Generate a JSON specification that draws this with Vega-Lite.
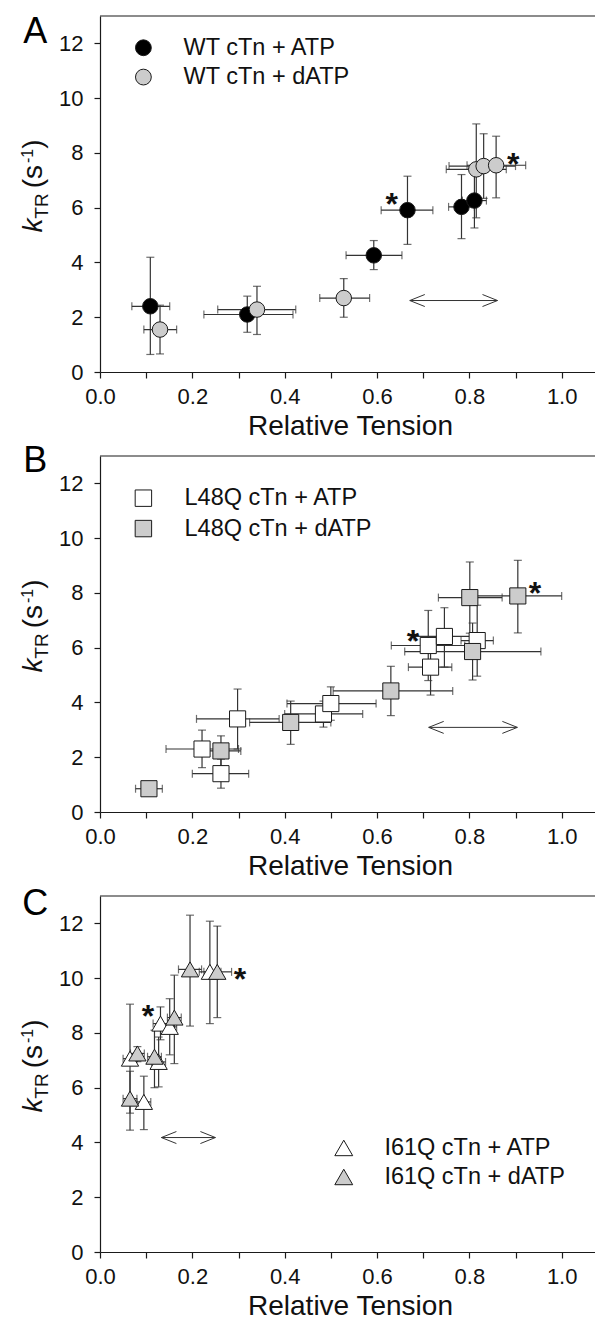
{
  "$schema": "https://vega.github.io/schema/vega-lite/v6.json",
  "padding": {"left": 19, "top": 14, "right": 0, "bottom": 0},
  "config": {
    "font": "Liberation Sans",
    "view": {"stroke": null},
    "axis": {"grid": false, "domainColor": "#1a1a1a", "domainWidth": 1.2, "tickColor": "#1a1a1a", "tickWidth": 1.2, "tickSize": 6, "labelFontSize": 22, "labelColor": "#111", "labelFont": "Liberation Sans", "titleFont": "Liberation Sans", "titleFontSize": 28, "titleFontWeight": "normal", "titleColor": "#111", "labelFlush": false, "labelOverlap": false}
  },
  "datasets": {
    "pts": [
      {"panel": "A", "nuc": "ATP", "x": 0.109, "y": 2.40, "xlo": 0.069, "xhi": 0.151, "ylo": 0.64, "yhi": 4.19},
      {"panel": "A", "nuc": "ATP", "x": 0.319, "y": 2.10, "xlo": 0.225, "xhi": 0.418, "ylo": 1.45, "yhi": 2.77},
      {"panel": "A", "nuc": "ATP", "x": 0.593, "y": 4.26, "xlo": 0.533, "xhi": 0.654, "ylo": 3.74, "yhi": 4.80},
      {"panel": "A", "nuc": "ATP", "x": 0.666, "y": 5.91, "xlo": 0.609, "xhi": 0.721, "ylo": 4.66, "yhi": 7.15},
      {"panel": "A", "nuc": "ATP", "x": 0.783, "y": 6.03, "xlo": 0.755, "xhi": 0.811, "ylo": 4.87, "yhi": 7.21},
      {"panel": "A", "nuc": "ATP", "x": 0.811, "y": 6.26, "xlo": 0.785, "xhi": 0.837, "ylo": 5.26, "yhi": 7.26},
      {"panel": "A", "nuc": "dATP", "x": 0.130, "y": 1.55, "xlo": 0.095, "xhi": 0.166, "ylo": 0.66, "yhi": 2.44},
      {"panel": "A", "nuc": "dATP", "x": 0.340, "y": 2.28, "xlo": 0.255, "xhi": 0.424, "ylo": 1.37, "yhi": 3.13},
      {"panel": "A", "nuc": "dATP", "x": 0.528, "y": 2.70, "xlo": 0.476, "xhi": 0.584, "ylo": 2.00, "yhi": 3.41},
      {"panel": "A", "nuc": "dATP", "x": 0.815, "y": 7.40, "xlo": 0.750, "xhi": 0.880, "ylo": 5.63, "yhi": 9.06},
      {"panel": "A", "nuc": "dATP", "x": 0.831, "y": 7.52, "xlo": 0.756, "xhi": 0.900, "ylo": 6.34, "yhi": 8.70},
      {"panel": "A", "nuc": "dATP", "x": 0.858, "y": 7.55, "xlo": 0.795, "xhi": 0.922, "ylo": 6.36, "yhi": 8.61},
      {"panel": "B", "nuc": "ATP", "x": 0.221, "y": 2.30, "xlo": 0.143, "xhi": 0.300, "ylo": 1.62, "yhi": 2.99},
      {"panel": "B", "nuc": "ATP", "x": 0.262, "y": 1.40, "xlo": 0.200, "xhi": 0.322, "ylo": 0.87, "yhi": 1.93},
      {"panel": "B", "nuc": "ATP", "x": 0.298, "y": 3.40, "xlo": 0.209, "xhi": 0.388, "ylo": 2.30, "yhi": 4.49},
      {"panel": "B", "nuc": "ATP", "x": 0.484, "y": 3.58, "xlo": 0.400, "xhi": 0.569, "ylo": 3.10, "yhi": 4.05},
      {"panel": "B", "nuc": "ATP", "x": 0.500, "y": 3.96, "xlo": 0.405, "xhi": 0.598, "ylo": 3.35, "yhi": 4.57},
      {"panel": "B", "nuc": "ATP", "x": 0.711, "y": 6.08, "xlo": 0.631, "xhi": 0.790, "ylo": 4.80, "yhi": 7.36},
      {"panel": "B", "nuc": "ATP", "x": 0.716, "y": 5.29, "xlo": 0.668, "xhi": 0.762, "ylo": 4.27, "yhi": 6.31},
      {"panel": "B", "nuc": "ATP", "x": 0.746, "y": 6.41, "xlo": 0.680, "xhi": 0.810, "ylo": 5.29, "yhi": 7.46},
      {"panel": "B", "nuc": "ATP", "x": 0.817, "y": 6.26, "xlo": 0.782, "xhi": 0.852, "ylo": 4.96, "yhi": 7.55},
      {"panel": "B", "nuc": "dATP", "x": 0.106, "y": 0.85, "xlo": 0.077, "xhi": 0.135, "ylo": 0.70, "yhi": 1.00},
      {"panel": "B", "nuc": "dATP", "x": 0.262, "y": 2.23, "xlo": 0.220, "xhi": 0.305, "ylo": 1.68, "yhi": 2.78},
      {"panel": "B", "nuc": "dATP", "x": 0.413, "y": 3.27, "xlo": 0.324, "xhi": 0.500, "ylo": 2.47, "yhi": 4.05},
      {"panel": "B", "nuc": "dATP", "x": 0.630, "y": 4.42, "xlo": 0.505, "xhi": 0.764, "ylo": 3.52, "yhi": 5.32},
      {"panel": "B", "nuc": "dATP", "x": 0.801, "y": 7.83, "xlo": 0.733, "xhi": 0.871, "ylo": 6.53, "yhi": 9.13},
      {"panel": "B", "nuc": "dATP", "x": 0.807, "y": 5.86, "xlo": 0.660, "xhi": 0.955, "ylo": 4.82, "yhi": 6.90},
      {"panel": "B", "nuc": "dATP", "x": 0.905, "y": 7.89, "xlo": 0.810, "xhi": 1.000, "ylo": 6.54, "yhi": 9.19},
      {"panel": "C", "nuc": "ATP", "x": 0.065, "y": 7.06, "xlo": 0.050, "xhi": 0.080, "ylo": 5.07, "yhi": 9.05},
      {"panel": "C", "nuc": "ATP", "x": 0.095, "y": 5.48, "xlo": 0.080, "xhi": 0.110, "ylo": 4.47, "yhi": 6.42},
      {"panel": "C", "nuc": "ATP", "x": 0.127, "y": 6.94, "xlo": 0.112, "xhi": 0.142, "ylo": 6.03, "yhi": 7.85},
      {"panel": "C", "nuc": "ATP", "x": 0.131, "y": 8.34, "xlo": 0.115, "xhi": 0.147, "ylo": 7.75, "yhi": 8.95},
      {"panel": "C", "nuc": "ATP", "x": 0.151, "y": 8.22, "xlo": 0.136, "xhi": 0.166, "ylo": 7.20, "yhi": 9.25},
      {"panel": "C", "nuc": "ATP", "x": 0.238, "y": 10.23, "xlo": 0.215, "xhi": 0.262, "ylo": 8.34, "yhi": 12.08},
      {"panel": "C", "nuc": "dATP", "x": 0.065, "y": 5.60, "xlo": 0.050, "xhi": 0.080, "ylo": 4.45, "yhi": 6.60},
      {"panel": "C", "nuc": "dATP", "x": 0.081, "y": 7.25, "xlo": 0.066, "xhi": 0.096, "ylo": 6.95, "yhi": 7.50},
      {"panel": "C", "nuc": "dATP", "x": 0.118, "y": 7.13, "xlo": 0.103, "xhi": 0.133, "ylo": 6.00, "yhi": 8.10},
      {"panel": "C", "nuc": "dATP", "x": 0.161, "y": 8.56, "xlo": 0.146, "xhi": 0.176, "ylo": 6.88, "yhi": 10.11},
      {"panel": "C", "nuc": "dATP", "x": 0.195, "y": 10.32, "xlo": 0.170, "xhi": 0.220, "ylo": 8.25, "yhi": 12.30},
      {"panel": "C", "nuc": "dATP", "x": 0.254, "y": 10.23, "xlo": 0.225, "xhi": 0.285, "ylo": 8.56, "yhi": 11.90}
    ],
    "stars": [
      {"panel": "A", "x": 0.632, "y": 6.36},
      {"panel": "A", "x": 0.895, "y": 7.83},
      {"panel": "B", "x": 0.678, "y": 6.48},
      {"panel": "B", "x": 0.942, "y": 8.22},
      {"panel": "C", "x": 0.104, "y": 8.83},
      {"panel": "C", "x": 0.303, "y": 10.19}
    ],
    "arrows": [
      {"panel": "A", "x": 0.671, "x2": 0.861, "y": 2.61},
      {"panel": "B", "x": 0.712, "x2": 0.904, "y": 3.09},
      {"panel": "C", "x": 0.133, "x2": 0.250, "y": 4.18}
    ],
    "leg": [
      {"panel": "A", "nuc": "ATP", "label": "WT cTn + ATP", "x": 0.094, "tx": 0.181, "y": 11.84},
      {"panel": "A", "nuc": "dATP", "label": "WT cTn + dATP", "x": 0.094, "tx": 0.181, "y": 10.77},
      {"panel": "B", "nuc": "ATP", "label": "L48Q cTn + ATP", "x": 0.094, "tx": 0.183, "y": 11.46},
      {"panel": "B", "nuc": "dATP", "label": "L48Q cTn + dATP", "x": 0.094, "tx": 0.183, "y": 10.35},
      {"panel": "C", "nuc": "ATP", "label": "I61Q cTn + ATP", "x": 0.528, "tx": 0.616, "y": 3.80},
      {"panel": "C", "nuc": "dATP", "label": "I61Q cTn + dATP", "x": 0.528, "tx": 0.616, "y": 2.74}
    ],
    "letters": [
      {"panel": "A", "text": "A", "x": -0.14, "y": 12.01},
      {"panel": "B", "text": "B", "x": -0.14, "y": 12.42},
      {"panel": "C", "text": "C", "x": -0.14, "y": 12.30}
    ]
  },
  "bounds": "flush",
  "spacing": 84,
  "resolve": {"scale": {"fill": "independent", "x": "independent", "y": "independent"}},
  "vconcat": [
    {
      "width": 500, "height": 356,
      "layer": [
        {"data": {"name": "pts"}, "transform": [{"filter": "datum.panel === 'A'"}],
         "mark": {"type": "errorbar", "color": "#333", "thickness": 1.2, "ticks": {"size": 8}},
         "encoding": {
           "x": {"field": "xlo", "type": "quantitative", "scale": {"domain": [0, 1.083], "nice": false, "zero": false},
                 "axis": {"values": [0, 0.1, 0.2, 0.3, 0.4, 0.5, 0.6, 0.7, 0.8, 0.9, 1.0], "labelExpr": "(round(datum.value*10) % 2 === 0) ? format(datum.value, '.1f') : ''", "title": "Relative Tension", "labelPadding": 8, "titlePadding": 5}},
           "x2": {"field": "xhi"},
           "y": {"field": "y", "type": "quantitative", "scale": {"domain": [0, 13], "nice": false, "zero": false},
                 "axis": {"values": [0, 2, 4, 6, 8, 10, 12], "title": null, "labelPadding": 11}}
         }},
        {"data": {"name": "pts"}, "transform": [{"filter": "datum.panel === 'A'"}],
         "mark": {"type": "errorbar", "color": "#333", "thickness": 1.2, "ticks": {"size": 8}},
         "encoding": {"x": {"field": "x", "type": "quantitative"}, "y": {"field": "ylo", "type": "quantitative"}, "y2": {"field": "yhi"}}},
        {"data": {"values": [{}]}, "mark": {"type": "rule", "color": "#1a1a1a", "strokeWidth": 1.2}, "encoding": {"y": {"datum": 13}}},
        {"data": {"name": "pts"}, "transform": [{"filter": "datum.panel === 'A'"}],
         "mark": {"type": "point", "shape": "circle", "filled": true, "size": 240, "stroke": "#1a1a1a", "strokeWidth": 1, "opacity": 1},
         "encoding": {"x": {"field": "x", "type": "quantitative"}, "y": {"field": "y", "type": "quantitative"},
                      "fill": {"field": "nuc", "type": "nominal", "scale": {"domain": ["ATP", "dATP"], "range": ["#000000", "#cccccc"]}, "legend": null}}},
        {"data": {"name": "stars"}, "transform": [{"filter": "datum.panel === 'A'"}],
         "mark": {"type": "text", "text": "*", "fontSize": 32, "fontWeight": "bold", "baseline": "middle", "dy": 7, "color": "#111"},
         "encoding": {"x": {"field": "x", "type": "quantitative"}, "y": {"field": "y", "type": "quantitative"}}},
        {"data": {"name": "arrows"}, "transform": [{"filter": "datum.panel === 'A'"}],
         "mark": {"type": "rule", "color": "#333", "strokeWidth": 1},
         "encoding": {"x": {"field": "x", "type": "quantitative"}, "x2": {"field": "x2"}, "y": {"field": "y", "type": "quantitative"}}},
        {"data": {"name": "arrows"}, "transform": [{"filter": "datum.panel === 'A'"}],
         "mark": {"type": "point", "shape": "M2,-0.8L0,0L2,0.8", "filled": false, "size": 225, "stroke": "#333", "strokeWidth": 1, "opacity": 1},
         "encoding": {"x": {"field": "x", "type": "quantitative"}, "y": {"field": "y", "type": "quantitative"}}},
        {"data": {"name": "arrows"}, "transform": [{"filter": "datum.panel === 'A'"}],
         "mark": {"type": "point", "shape": "M-2,-0.8L0,0L-2,0.8", "filled": false, "size": 225, "stroke": "#333", "strokeWidth": 1, "opacity": 1},
         "encoding": {"x": {"field": "x2", "type": "quantitative"}, "y": {"field": "y", "type": "quantitative"}}},
        {"data": {"name": "leg"}, "transform": [{"filter": "datum.panel === 'A'"}],
         "mark": {"type": "point", "shape": "circle", "filled": true, "size": 250, "stroke": "#1a1a1a", "strokeWidth": 1, "opacity": 1},
         "encoding": {"x": {"field": "x", "type": "quantitative"}, "y": {"field": "y", "type": "quantitative"},
                      "fill": {"field": "nuc", "type": "nominal", "legend": null}}},
        {"data": {"name": "leg"}, "transform": [{"filter": "datum.panel === 'A'"}],
         "mark": {"type": "text", "align": "left", "baseline": "middle", "fontSize": 23.5, "color": "#111"},
         "encoding": {"x": {"field": "tx", "type": "quantitative"}, "y": {"field": "y", "type": "quantitative"}, "text": {"field": "label"}}},
        {"data": {"name": "letters"}, "transform": [{"filter": "datum.panel === 'A'"}],
         "mark": {"type": "text", "align": "center", "baseline": "alphabetic", "fontSize": 36, "color": "#000"},
         "encoding": {"x": {"field": "x", "type": "quantitative"}, "y": {"field": "y", "type": "quantitative"}, "text": {"field": "text"}}},
        {"data": {"values": [{}]}, "mark": {"type": "text", "text": "k", "angle": 270, "align": "left", "baseline": "alphabetic", "fontSize": 28, "fontStyle": "italic", "color": "#111"}, "encoding": {"x": {"datum": -0.1246}, "y": {"datum": 5.09}}},
        {"data": {"values": [{}]}, "mark": {"type": "text", "text": "TR", "angle": 270, "align": "left", "baseline": "alphabetic", "fontSize": 19, "color": "#111"}, "encoding": {"x": {"datum": -0.1127}, "y": {"datum": 5.60}}},
        {"data": {"values": [{}]}, "mark": {"type": "text", "text": "(s", "angle": 270, "align": "left", "baseline": "alphabetic", "fontSize": 28, "color": "#111"}, "encoding": {"x": {"datum": -0.1246}, "y": {"datum": 6.71}}},
        {"data": {"values": [{}]}, "mark": {"type": "text", "text": "-1", "angle": 270, "align": "left", "baseline": "alphabetic", "fontSize": 16, "color": "#111"}, "encoding": {"x": {"datum": -0.1452}, "y": {"datum": 7.63}}},
        {"data": {"values": [{}]}, "mark": {"type": "text", "text": ")", "angle": 270, "align": "left", "baseline": "alphabetic", "fontSize": 28, "color": "#111"}, "encoding": {"x": {"datum": -0.1246}, "y": {"datum": 8.15}}}
      ]
    },
    {
      "width": 500, "height": 356,
      "layer": [
        {"data": {"name": "pts"}, "transform": [{"filter": "datum.panel === 'B'"}],
         "mark": {"type": "errorbar", "color": "#333", "thickness": 1.2, "ticks": {"size": 8}},
         "encoding": {
           "x": {"field": "xlo", "type": "quantitative", "scale": {"domain": [0, 1.083], "nice": false, "zero": false},
                 "axis": {"values": [0, 0.1, 0.2, 0.3, 0.4, 0.5, 0.6, 0.7, 0.8, 0.9, 1.0], "labelExpr": "(round(datum.value*10) % 2 === 0) ? format(datum.value, '.1f') : ''", "title": "Relative Tension", "labelPadding": 8, "titlePadding": 5}},
           "x2": {"field": "xhi"},
           "y": {"field": "y", "type": "quantitative", "scale": {"domain": [0, 13], "nice": false, "zero": false},
                 "axis": {"values": [0, 2, 4, 6, 8, 10, 12], "title": null, "labelPadding": 11}}
         }},
        {"data": {"name": "pts"}, "transform": [{"filter": "datum.panel === 'B'"}],
         "mark": {"type": "errorbar", "color": "#333", "thickness": 1.2, "ticks": {"size": 8}},
         "encoding": {"x": {"field": "x", "type": "quantitative"}, "y": {"field": "ylo", "type": "quantitative"}, "y2": {"field": "yhi"}}},
        {"data": {"values": [{}]}, "mark": {"type": "rule", "color": "#1a1a1a", "strokeWidth": 1.2}, "encoding": {"y": {"datum": 13}}},
        {"data": {"name": "pts"}, "transform": [{"filter": "datum.panel === 'B'"}],
         "mark": {"type": "point", "shape": "square", "filled": true, "size": 260, "stroke": "#1a1a1a", "strokeWidth": 1, "opacity": 1},
         "encoding": {"x": {"field": "x", "type": "quantitative"}, "y": {"field": "y", "type": "quantitative"},
                      "fill": {"field": "nuc", "type": "nominal", "scale": {"domain": ["ATP", "dATP"], "range": ["#ffffff", "#cccccc"]}, "legend": null}}},
        {"data": {"name": "stars"}, "transform": [{"filter": "datum.panel === 'B'"}],
         "mark": {"type": "text", "text": "*", "fontSize": 32, "fontWeight": "bold", "baseline": "middle", "dy": 7, "color": "#111"},
         "encoding": {"x": {"field": "x", "type": "quantitative"}, "y": {"field": "y", "type": "quantitative"}}},
        {"data": {"name": "arrows"}, "transform": [{"filter": "datum.panel === 'B'"}],
         "mark": {"type": "rule", "color": "#333", "strokeWidth": 1},
         "encoding": {"x": {"field": "x", "type": "quantitative"}, "x2": {"field": "x2"}, "y": {"field": "y", "type": "quantitative"}}},
        {"data": {"name": "arrows"}, "transform": [{"filter": "datum.panel === 'B'"}],
         "mark": {"type": "point", "shape": "M2,-0.8L0,0L2,0.8", "filled": false, "size": 225, "stroke": "#333", "strokeWidth": 1, "opacity": 1},
         "encoding": {"x": {"field": "x", "type": "quantitative"}, "y": {"field": "y", "type": "quantitative"}}},
        {"data": {"name": "arrows"}, "transform": [{"filter": "datum.panel === 'B'"}],
         "mark": {"type": "point", "shape": "M-2,-0.8L0,0L-2,0.8", "filled": false, "size": 225, "stroke": "#333", "strokeWidth": 1, "opacity": 1},
         "encoding": {"x": {"field": "x2", "type": "quantitative"}, "y": {"field": "y", "type": "quantitative"}}},
        {"data": {"name": "leg"}, "transform": [{"filter": "datum.panel === 'B'"}],
         "mark": {"type": "point", "shape": "square", "filled": true, "size": 270, "stroke": "#1a1a1a", "strokeWidth": 1, "opacity": 1},
         "encoding": {"x": {"field": "x", "type": "quantitative"}, "y": {"field": "y", "type": "quantitative"},
                      "fill": {"field": "nuc", "type": "nominal", "legend": null}}},
        {"data": {"name": "leg"}, "transform": [{"filter": "datum.panel === 'B'"}],
         "mark": {"type": "text", "align": "left", "baseline": "middle", "fontSize": 23.5, "color": "#111"},
         "encoding": {"x": {"field": "tx", "type": "quantitative"}, "y": {"field": "y", "type": "quantitative"}, "text": {"field": "label"}}},
        {"data": {"name": "letters"}, "transform": [{"filter": "datum.panel === 'B'"}],
         "mark": {"type": "text", "align": "center", "baseline": "alphabetic", "fontSize": 36, "color": "#000"},
         "encoding": {"x": {"field": "x", "type": "quantitative"}, "y": {"field": "y", "type": "quantitative"}, "text": {"field": "text"}}},
        {"data": {"values": [{}]}, "mark": {"type": "text", "text": "k", "angle": 270, "align": "left", "baseline": "alphabetic", "fontSize": 28, "fontStyle": "italic", "color": "#111"}, "encoding": {"x": {"datum": -0.1246}, "y": {"datum": 5.09}}},
        {"data": {"values": [{}]}, "mark": {"type": "text", "text": "TR", "angle": 270, "align": "left", "baseline": "alphabetic", "fontSize": 19, "color": "#111"}, "encoding": {"x": {"datum": -0.1127}, "y": {"datum": 5.60}}},
        {"data": {"values": [{}]}, "mark": {"type": "text", "text": "(s", "angle": 270, "align": "left", "baseline": "alphabetic", "fontSize": 28, "color": "#111"}, "encoding": {"x": {"datum": -0.1246}, "y": {"datum": 6.71}}},
        {"data": {"values": [{}]}, "mark": {"type": "text", "text": "-1", "angle": 270, "align": "left", "baseline": "alphabetic", "fontSize": 16, "color": "#111"}, "encoding": {"x": {"datum": -0.1452}, "y": {"datum": 7.63}}},
        {"data": {"values": [{}]}, "mark": {"type": "text", "text": ")", "angle": 270, "align": "left", "baseline": "alphabetic", "fontSize": 28, "color": "#111"}, "encoding": {"x": {"datum": -0.1246}, "y": {"datum": 8.15}}}
      ]
    },
    {
      "width": 500, "height": 356,
      "layer": [
        {"data": {"name": "pts"}, "transform": [{"filter": "datum.panel === 'C'"}],
         "mark": {"type": "errorbar", "color": "#333", "thickness": 1.2, "ticks": {"size": 8}},
         "encoding": {
           "x": {"field": "xlo", "type": "quantitative", "scale": {"domain": [0, 1.083], "nice": false, "zero": false},
                 "axis": {"values": [0, 0.1, 0.2, 0.3, 0.4, 0.5, 0.6, 0.7, 0.8, 0.9, 1.0], "labelExpr": "(round(datum.value*10) % 2 === 0) ? format(datum.value, '.1f') : ''", "title": "Relative Tension", "labelPadding": 8, "titlePadding": 5}},
           "x2": {"field": "xhi"},
           "y": {"field": "y", "type": "quantitative", "scale": {"domain": [0, 13], "nice": false, "zero": false},
                 "axis": {"values": [0, 2, 4, 6, 8, 10, 12], "title": null, "labelPadding": 11}}
         }},
        {"data": {"name": "pts"}, "transform": [{"filter": "datum.panel === 'C'"}],
         "mark": {"type": "errorbar", "color": "#333", "thickness": 1.2, "ticks": {"size": 8}},
         "encoding": {"x": {"field": "x", "type": "quantitative"}, "y": {"field": "ylo", "type": "quantitative"}, "y2": {"field": "yhi"}}},
        {"data": {"values": [{}]}, "mark": {"type": "rule", "color": "#1a1a1a", "strokeWidth": 1.2}, "encoding": {"y": {"datum": 13}}},
        {"data": {"name": "pts"}, "transform": [{"filter": "datum.panel === 'C'"}],
         "mark": {"type": "point", "shape": "triangle-up", "filled": true, "size": 300, "stroke": "#1a1a1a", "strokeWidth": 1, "opacity": 1},
         "encoding": {"x": {"field": "x", "type": "quantitative"}, "y": {"field": "y", "type": "quantitative"},
                      "fill": {"field": "nuc", "type": "nominal", "scale": {"domain": ["ATP", "dATP"], "range": ["#ffffff", "#cccccc"]}, "legend": null}}},
        {"data": {"name": "stars"}, "transform": [{"filter": "datum.panel === 'C'"}],
         "mark": {"type": "text", "text": "*", "fontSize": 32, "fontWeight": "bold", "baseline": "middle", "dy": 7, "color": "#111"},
         "encoding": {"x": {"field": "x", "type": "quantitative"}, "y": {"field": "y", "type": "quantitative"}}},
        {"data": {"name": "arrows"}, "transform": [{"filter": "datum.panel === 'C'"}],
         "mark": {"type": "rule", "color": "#333", "strokeWidth": 1},
         "encoding": {"x": {"field": "x", "type": "quantitative"}, "x2": {"field": "x2"}, "y": {"field": "y", "type": "quantitative"}}},
        {"data": {"name": "arrows"}, "transform": [{"filter": "datum.panel === 'C'"}],
         "mark": {"type": "point", "shape": "M2,-0.8L0,0L2,0.8", "filled": false, "size": 225, "stroke": "#333", "strokeWidth": 1, "opacity": 1},
         "encoding": {"x": {"field": "x", "type": "quantitative"}, "y": {"field": "y", "type": "quantitative"}}},
        {"data": {"name": "arrows"}, "transform": [{"filter": "datum.panel === 'C'"}],
         "mark": {"type": "point", "shape": "M-2,-0.8L0,0L-2,0.8", "filled": false, "size": 225, "stroke": "#333", "strokeWidth": 1, "opacity": 1},
         "encoding": {"x": {"field": "x2", "type": "quantitative"}, "y": {"field": "y", "type": "quantitative"}}},
        {"data": {"name": "leg"}, "transform": [{"filter": "datum.panel === 'C'"}],
         "mark": {"type": "point", "shape": "triangle-up", "filled": true, "size": 320, "stroke": "#1a1a1a", "strokeWidth": 1, "opacity": 1},
         "encoding": {"x": {"field": "x", "type": "quantitative"}, "y": {"field": "y", "type": "quantitative"},
                      "fill": {"field": "nuc", "type": "nominal", "legend": null}}},
        {"data": {"name": "leg"}, "transform": [{"filter": "datum.panel === 'C'"}],
         "mark": {"type": "text", "align": "left", "baseline": "middle", "fontSize": 23.5, "color": "#111"},
         "encoding": {"x": {"field": "tx", "type": "quantitative"}, "y": {"field": "y", "type": "quantitative"}, "text": {"field": "label"}}},
        {"data": {"name": "letters"}, "transform": [{"filter": "datum.panel === 'C'"}],
         "mark": {"type": "text", "align": "center", "baseline": "alphabetic", "fontSize": 36, "color": "#000"},
         "encoding": {"x": {"field": "x", "type": "quantitative"}, "y": {"field": "y", "type": "quantitative"}, "text": {"field": "text"}}},
        {"data": {"values": [{}]}, "mark": {"type": "text", "text": "k", "angle": 270, "align": "left", "baseline": "alphabetic", "fontSize": 28, "fontStyle": "italic", "color": "#111"}, "encoding": {"x": {"datum": -0.1246}, "y": {"datum": 5.09}}},
        {"data": {"values": [{}]}, "mark": {"type": "text", "text": "TR", "angle": 270, "align": "left", "baseline": "alphabetic", "fontSize": 19, "color": "#111"}, "encoding": {"x": {"datum": -0.1127}, "y": {"datum": 5.60}}},
        {"data": {"values": [{}]}, "mark": {"type": "text", "text": "(s", "angle": 270, "align": "left", "baseline": "alphabetic", "fontSize": 28, "color": "#111"}, "encoding": {"x": {"datum": -0.1246}, "y": {"datum": 6.71}}},
        {"data": {"values": [{}]}, "mark": {"type": "text", "text": "-1", "angle": 270, "align": "left", "baseline": "alphabetic", "fontSize": 16, "color": "#111"}, "encoding": {"x": {"datum": -0.1452}, "y": {"datum": 7.63}}},
        {"data": {"values": [{}]}, "mark": {"type": "text", "text": ")", "angle": 270, "align": "left", "baseline": "alphabetic", "fontSize": 28, "color": "#111"}, "encoding": {"x": {"datum": -0.1246}, "y": {"datum": 8.15}}}
      ]
    }
  ]
}
